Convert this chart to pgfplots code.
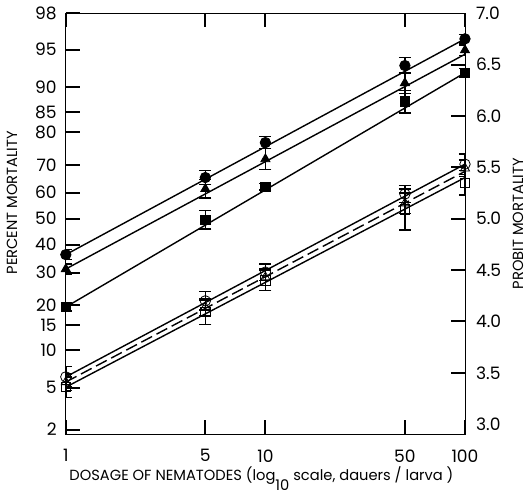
\documentclass[border=0pt]{standalone}
\usepackage{fontspec}
\setmainfont{Poppins}
\usepackage{pgfplots}
\pgfplotsset{compat=1.18}

\pgfplotsset{
  fitline/.style={black, line width=0.7pt, no markers},
  ebpts/.style={only marks, black, mark size=2.6pt,
    error bars/y dir=both, error bars/y explicit,
    error bars/error bar style={line width=0.7pt},
    error bars/error mark options={rotate=90, mark size=3pt, line width=0.7pt}},
}

\begin{document}
\begin{tikzpicture}
\begin{axis}[
  width=198.5pt, height=209.5pt, scale only axis,
  xmode=log, xmin=1, xmax=100, ymin=2.9, ymax=7.0,
  major tick length=7pt,
  every tick/.append style={black, line width=1pt},
  xtick={1,5,10,50,100}, xticklabels={1,5,10,50,100},
  xticklabel style={yshift=-4pt, font=\fontsize{8.5}{10}\selectfont},
  ytick={2.9463,3.3551,3.7184,3.9636,4.1584,4.4756,4.7467,5.0,5.2533,5.5244,5.8416,6.0364,6.2816,6.645,7.0},
  yticklabels={2,5,10,15,20,30,40,50,60,70,80,85,90,95,98},
  ytick pos=left,
  yticklabel style={xshift=-1pt, font=\fontsize{8.5}{10}\selectfont},
  xlabel={DOSAGE OF NEMATODES (log\raisebox{-1.3ex}{10} scale, dauers / larva )},
  xlabel style={at={(axis description cs:0.49,-0.105)}, anchor=center, font=\fontsize{7.3}{9}\selectfont},
  ylabel={PERCENT MORTALITY},
  ylabel style={at={(axis description cs:-0.135,0.55)}, anchor=center, font=\fontsize{7.3}{9}\selectfont},
]
% fitted lines
\addplot[fitline] coordinates {(1,4.65) (100,6.75)};
\addplot[fitline] coordinates {(1,4.51) (100,6.60)};
\addplot[fitline] coordinates {(1,4.14) (100,6.42)};
\addplot[fitline] coordinates {(1,3.46) (100,5.53)};
\addplot[fitline, dash pattern=on 6pt off 2.5pt] coordinates {(1,3.41) (100,5.46)};
\addplot[fitline] coordinates {(1,3.36) (100,5.40)};
% filled circles
\addplot[ebpts, mark=*] coordinates {
  (1,4.65) +- (0,0.05) (5,5.40) +- (0,0.07) (10,5.74) +- (0,0.06)
  (50,6.49) +- (0,0.08) (100,6.75) +- (0,0.04)};
% filled triangles
\addplot[ebpts, mark=triangle*] coordinates {
  (1,4.51) +- (0,0.05) (5,5.29) +- (0,0.09) (10,5.58) +- (0,0.10)
  (50,6.32) +- (0,0.10) (100,6.64) +- (0,0.05)};
% filled squares
\addplot[ebpts, mark=square*, mark size=2.3pt] coordinates {
  (1,4.14) +- (0,0.04) (5,4.99) +- (0,0.09) (10,5.31) +- (0,0.03)
  (50,6.14) +- (0,0.11) (100,6.42) +- (0,0.04)};
% open circles
\addplot[ebpts, mark=o, mark options={fill=white}] coordinates {
  (1,3.46) +- (0,0.10) (5,4.20) +- (0,0.09) (10,4.48) +- (0,0.08)
  (50,5.24) +- (0,0.08) (100,5.53) +- (0,0.10)};
% open triangles
\addplot[ebpts, mark=triangle, mark options={fill=white}] coordinates {
  (1,3.41) +- (0,0.08) (5,4.14) +- (0,0.08) (10,4.43) +- (0,0.08)
  (50,5.15) +- (0,0.10) (100,5.49) +- (0,0.08)};
% open squares
\addplot[ebpts, mark=square, mark size=2.3pt, mark options={fill=white}] coordinates {
  (1,3.36) +- (0,0.10) (5,4.09) +- (0,0.12) (10,4.40) +- (0,0.10)
  (50,5.09) +- (0,0.20) (100,5.35) +- (0,0.12)};
\end{axis}
\begin{axis}[
  width=198.5pt, height=209.5pt, scale only axis,
  xmode=log, xmin=1, xmax=100, ymin=2.9, ymax=7.0,
  major tick length=7pt,
  every tick/.append style={black, line width=1pt},
  axis x line=none,
  axis y line*=right,
  ytick={3.5,4.0,...,6.5},
  extra y ticks={3.0,7.0},
  extra y tick style={major tick length=0pt},
  yticklabel style={/pgf/number format/fixed, /pgf/number format/fixed zerofill, /pgf/number format/precision=1, /pgf/number format/assume math mode=true, xshift=2pt, font=\fontsize{8.5}{10}\selectfont},
  ylabel={PROBIT MORTALITY},
  ylabel style={at={(axis description cs:1.133,0.5)}, anchor=center, font=\fontsize{7.3}{9}\selectfont},
]
\end{axis}
\end{tikzpicture}
\end{document}
